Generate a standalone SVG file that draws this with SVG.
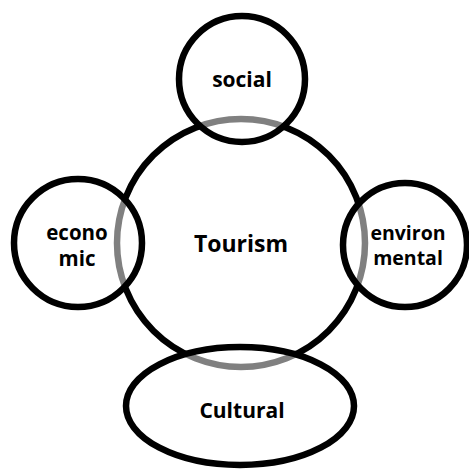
<svg xmlns="http://www.w3.org/2000/svg" width="469" height="474" viewBox="0 0 469 474">
<style>
.shape{stroke:#000;stroke-width:6.5;}
.big{fill:#fff;}
.sat{fill:#fff;fill-opacity:0.5;}
text{font-family:"Open Sans","Liberation Sans",sans-serif;font-weight:bold;fill:#000;text-anchor:middle;dominant-baseline:central;}
</style>
<rect width="469" height="474" fill="#fff"/>
<g id="connectors"></g>
<g id="tourism">
<circle class="shape big" cx="241" cy="243" r="124"/>
<text x="241" y="243" font-size="23">Tourism</text>
</g>
<g id="social">
<circle class="shape sat" cx="242" cy="79" r="63"/>
<text x="242" y="79" font-size="21">social</text>
</g>
<g id="economic">
<circle class="shape sat" cx="78" cy="243" r="64"/>
<text x="77" y="232" font-size="20.5">econo</text>
<text x="77" y="258" font-size="20.5">mic</text>
</g>
<g id="environmental">
<circle class="shape sat" cx="405" cy="245" r="62"/>
<text x="408" y="232" font-size="19.5">environ</text>
<text x="408" y="257" font-size="19.5">mental</text>
</g>
<g id="cultural">
<ellipse class="shape sat" cx="240" cy="406" rx="114" ry="59"/>
<text x="242" y="410" font-size="21">Cultural</text>
</g>
</svg>
